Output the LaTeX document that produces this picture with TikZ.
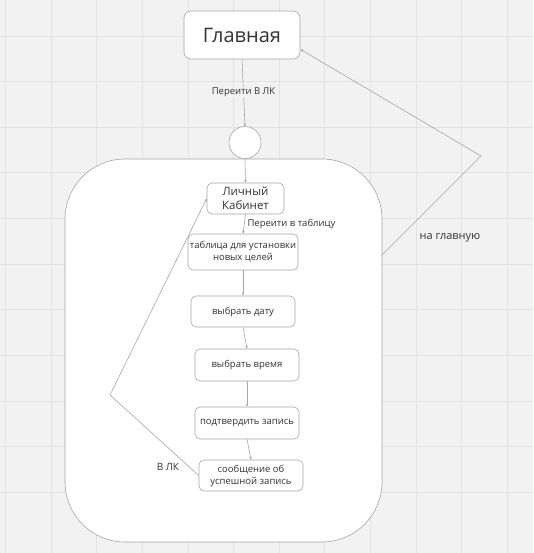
\documentclass[tikz,border=0pt]{standalone}
\usepackage{fontspec}
\setmainfont{Open Sans}
\usetikzlibrary{arrows.meta}
\definecolor{bgc}{HTML}{F2F2F2}
\definecolor{gridc}{HTML}{E2E2E2}
\definecolor{linec}{HTML}{A6A6A6}
\definecolor{txtc}{HTML}{333333}
\begin{document}
\begin{tikzpicture}[x=1pt,y=-1pt,
  box/.style={draw=linec,fill=white,rounded corners=5pt,align=center,text=txtc,
    font=\fontsize{9.5}{12}\selectfont,inner sep=0pt,line width=0.6pt},
  conn/.style={draw=linec,line width=0.6pt,-{Stealth[length=3pt,width=2.5pt]}},
  lbl/.style={text=txtc,font=\fontsize{9.5}{12}\selectfont,inner sep=0pt}]
\useasboundingbox (0,0) rectangle (533,553);
\fill[bgc] (0,0) rectangle (533,553);
\foreach \i in {0,...,11}{
  \draw[gridc,line width=0.6pt] (5.4+45.6*\i,0) -- (5.4+45.6*\i,553);
  \draw[gridc,line width=0.6pt] (0,-9.6+45.6*\i) -- (533,-9.6+45.6*\i);
}
% big panel
\node[draw=linec,fill=white,rounded corners=60pt,minimum width=317pt,minimum height=383pt,inner sep=0pt,line width=0.6pt] (panel) at (223.5,350.5) {};
% nodes
\node[box,minimum width=116pt,minimum height=48pt,font=\fontsize{20}{24}\selectfont,rounded corners=7pt] (g) at (242,35) {Главная};
\node[draw=linec,fill=white,circle,minimum size=32pt,inner sep=0pt,line width=0.6pt] (c) at (245,142.5) {};
\node[box,minimum width=77pt,minimum height=31pt,font=\fontsize{11.5}{14}\selectfont] (lk) at (245.5,198.5) {Личный\\Кабинет};
\node[box,minimum width=110pt,minimum height=36pt] (t) at (243,252) {таблица для установки\\новых целей};
\node[box,minimum width=104pt,minimum height=31pt] (d) at (243,311.5) {выбрать дату};
\node[box,minimum width=104pt,minimum height=32pt] (v) at (247,365) {выбрать время};
\node[box,minimum width=104pt,minimum height=32pt] (p) at (247,423) {подтвердить запись};
\node[box,minimum width=104pt,minimum height=31pt] (s) at (251,475.5) {сообщение об\\успешной запись};
% connectors
\draw[conn] (g.south) -- (c.north) node[midway,lbl,fill=bgc,inner sep=1pt] {Переити В ЛК};
\draw[conn] (c.south) -- (lk.north);
\draw[conn] (lk.south) -- (t.north) node[midway,lbl,anchor=west,xshift=3pt] {Переити в таблицу};
\draw[conn] (t.south) -- (d.north);
\draw[conn] (d.south) -- (v.north);
\draw[conn] (v.south) -- (p.north);
\draw[conn] (p.south) -- (s.north);
\coordinate (b1) at (110,395);
\draw[conn] (s.west) -- (b1) -- (lk.west);
\node[lbl,font=\fontsize{10}{12}\selectfont] (lbl1) at (168,467) {В ЛК};
\coordinate (pe) at (382,255);
\coordinate (b2) at (481,156);
\draw[conn] (pe) -- (b2) -- ([yshift=10pt]g.south east);
\node[lbl,font=\fontsize{11}{13}\selectfont] (lbl2) at (450,238) {на главную};
\end{tikzpicture}
\end{document}
